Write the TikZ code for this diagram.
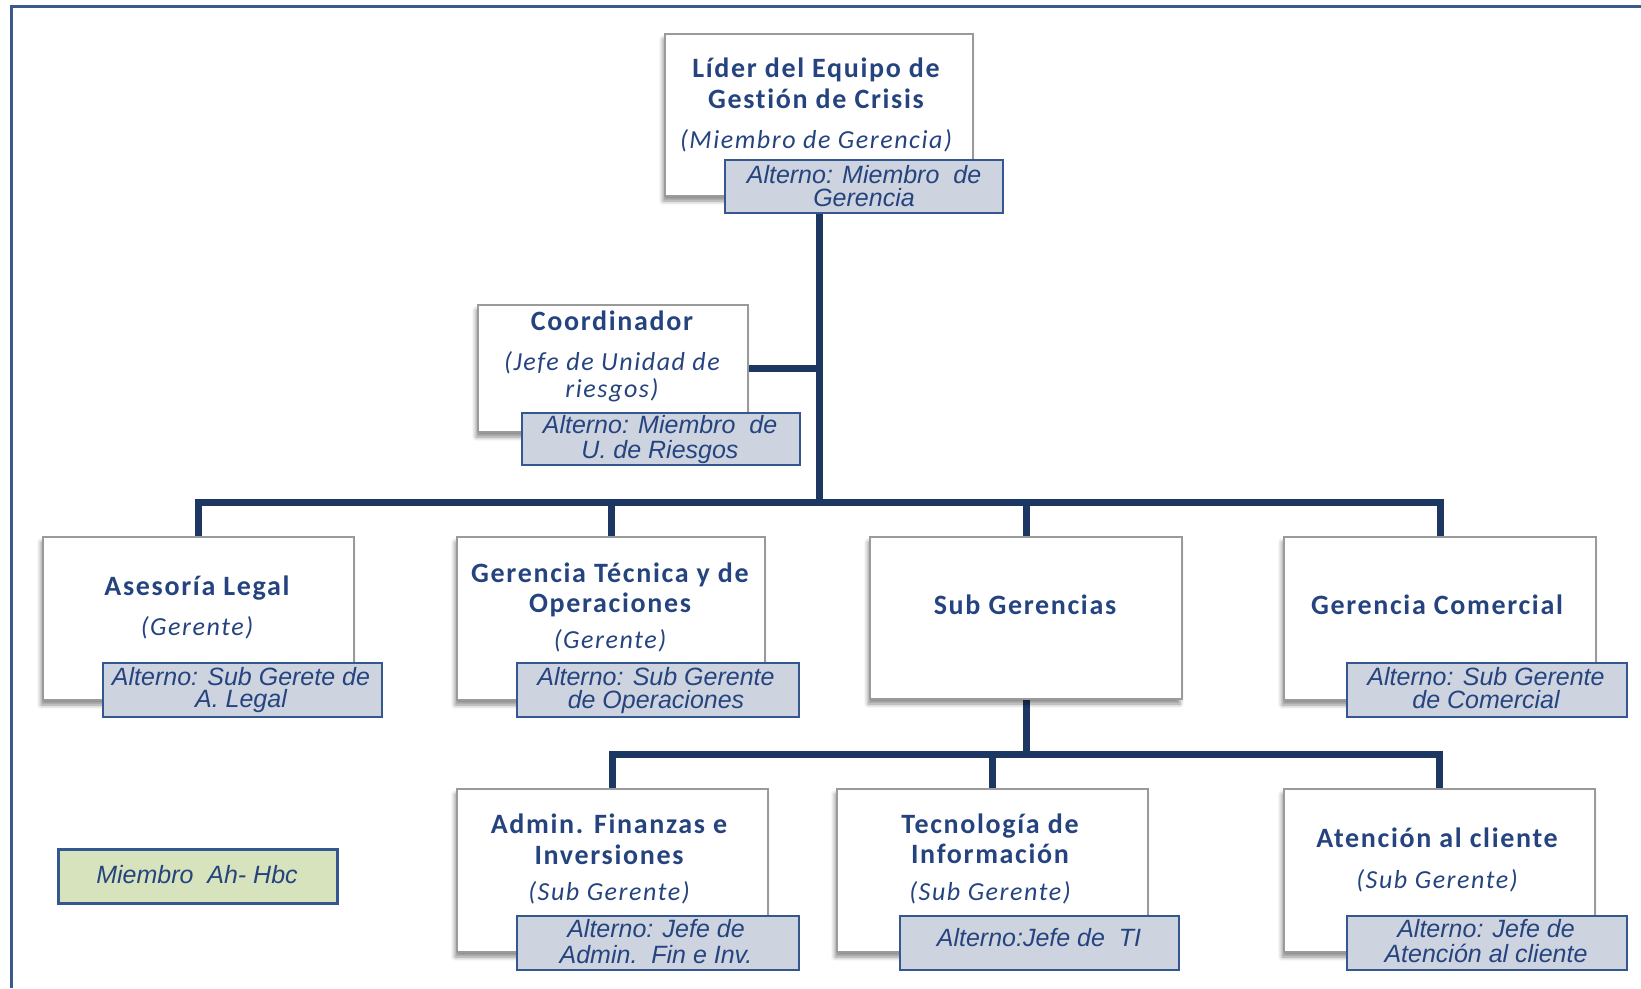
\documentclass[tikz,border=0pt]{standalone}
\usepackage{fontspec}
\setmainfont{Carlito}
\newfontfamily\titlefamily[LetterSpace=6, Ligatures=NoCommon]{Carlito}
\newfontfamily\altfamily{Liberation Sans}
\usetikzlibrary{shadows.blur}
\pgfdeclarelayer{background}
\pgfsetlayers{background,main}

\definecolor{txtblue}{HTML}{25447F}
\definecolor{linkblue}{HTML}{1C3862}
\definecolor{altfill}{HTML}{CDD3DF}
\definecolor{altblue}{HTML}{34578F}
\definecolor{boxgray}{HTML}{9A9A9A}
\definecolor{framecol}{HTML}{3A5A8C}
\definecolor{legendgreen}{HTML}{D7E3BC}

\tikzset{
  mainbox/.style={draw=boxgray, line width=1.8pt, fill=white, inner sep=0pt,
    outer sep=0pt, anchor=north west,
    blur shadow={shadow xshift=-2pt, shadow yshift=-5pt,
      shadow blur radius=4pt, shadow opacity=45}},
  altbox/.style={draw=altblue, line width=2pt, fill=altfill, inner sep=0pt,
    outer sep=0pt, anchor=north west},
  legendbox/.style={draw=altblue, line width=3pt, fill=legendgreen,
    inner sep=0pt, outer sep=0pt, anchor=north west},
  title/.style={font=\titlefamily\bfseries\fontsize{28}{31}\selectfont,
    text=txtblue, anchor=base, inner sep=0pt},
  role/.style={font=\titlefamily\itshape\fontsize{26}{28}\selectfont,
    text=txtblue, anchor=base, inner sep=0pt},
  alttext/.style={font=\altfamily\itshape\fontsize{25}{23}\selectfont,
    text=txtblue, anchor=base, inner sep=0pt},
  link/.style={draw=linkblue, line width=7pt},
  frame/.style={draw=framecol, line width=3pt}
}

\begin{document}
\begin{tikzpicture}[x=1pt, y=-1pt]
\useasboundingbox (0,0) rectangle (1641,988);

% outer frame
\draw[frame] (11,988) -- (11,6) -- (1641,6);

% ---- boxes ----
\node[mainbox, minimum width=308pt, minimum height=162pt] (lider) at (665,34) {};
\node[altbox, minimum width=278pt, minimum height=53pt] (liderAlt) at (725,160) {};

\node[mainbox, minimum width=270pt, minimum height=127pt] (coord) at (478,305) {};
\node[altbox, minimum width=278pt, minimum height=52pt] (coordAlt) at (522,413) {};

\node[mainbox, minimum width=311pt, minimum height=163pt] (legal) at (43,537) {};
\node[altbox, minimum width=279pt, minimum height=54pt] (legalAlt) at (103,663) {};

\node[mainbox, minimum width=308pt, minimum height=163pt] (tecnica) at (457,537) {};
\node[altbox, minimum width=282pt, minimum height=54pt] (tecnicaAlt) at (517,663) {};

\node[mainbox, minimum width=312pt, minimum height=162pt] (subger) at (870,537) {};

\node[mainbox, minimum width=312pt, minimum height=163pt] (comercial) at (1284,537) {};
\node[altbox, minimum width=280pt, minimum height=54pt] (comercialAlt) at (1347,663) {};

\node[mainbox, minimum width=311pt, minimum height=163pt] (finanzas) at (457,789) {};
\node[altbox, minimum width=282pt, minimum height=54pt] (finanzasAlt) at (517,916) {};

\node[mainbox, minimum width=311pt, minimum height=163pt] (ti) at (837,789) {};
\node[altbox, minimum width=279pt, minimum height=54pt] (tiAlt) at (900,916) {};

\node[mainbox, minimum width=311pt, minimum height=163pt] (cliente) at (1284,789) {};
\node[altbox, minimum width=280pt, minimum height=54pt] (clienteAlt) at (1347,916) {};

\node[legendbox, minimum width=279pt, minimum height=54pt] (legend) at (58,849) {};

% ---- connectors ----
\coordinate (bus1) at (0,502);
\coordinate (bus2) at (0,754);
\begin{pgfonlayer}{background}
  \draw[link] (lider.south) -- (lider.south |- bus1);
  \draw[link] (coord.east) -- (coord.east -| lider.south);
  \draw[link] (legal.north) -- (legal.north |- bus1)
    -- (comercial.north |- bus1) -- (comercial.north);
  \draw[link] (tecnica.north) -- (tecnica.north |- bus1);
  \draw[link] (subger.north) -- (subger.north |- bus1);
  \draw[link] (subger.south) -- (subger.south |- bus2);
  \draw[link] (finanzas.north) -- (finanzas.north |- bus2)
    -- (cliente.north |- bus2) -- (cliente.north);
  \draw[link] (ti.north) -- (ti.north |- bus2);
\end{pgfonlayer}

% ---- texts ----
\node[title] (liderT1) at (816,77) {Líder del Equipo de};
\node[title] (liderT2) at (816,108) {Gestión de Crisis};
\node[role]  (liderR) at (816,148) {(Miembro de Gerencia)};
\node[alttext] (liderA1) at (864,183) {Alterno: Miembro\ \ de};
\node[alttext] (liderA2) at (864,206) {Gerencia};

\node[title] (coordT) at (612,330) {Coordinador};
\node[role]  (coordR1) at (612,370) {(Jefe de Unidad de};
\node[role]  (coordR2) at (612,397) {riesgos)};
\node[alttext] (coordA1) at (660,433) {Alterno: Miembro\ \ de};
\node[alttext] (coordA2) at (660,458) {U. de Riesgos};

\node[title] (legalT) at (197,595) {Asesoría Legal};
\node[role]  (legalR) at (197,635) {(Gerente)};
\node[alttext] (legalA1) at (241,685) {Alterno: Sub Gerete de};
\node[alttext] (legalA2) at (241,707) {A. Legal};

\node[title] (tecnicaT1) at (610,582) {Gerencia Técnica y de};
\node[title] (tecnicaT2) at (610,612) {Operaciones};
\node[role]  (tecnicaR) at (610,648) {(Gerente)};
\node[alttext] (tecnicaA1) at (656,685) {Alterno: Sub Gerente};
\node[alttext] (tecnicaA2) at (656,708) {de Operaciones};

\node[title] (subgerT) at (1025,614) {Sub Gerencias};

\node[title] (comercialT) at (1437,614) {Gerencia Comercial};
\node[alttext] (comercialA1) at (1486,685) {Alterno: Sub Gerente};
\node[alttext] (comercialA2) at (1486,708) {de Comercial};

\node[title] (finanzasT1) at (609,833) {Admin. Finanzas e};
\node[title] (finanzasT2) at (609,864) {Inversiones};
\node[role]  (finanzasR) at (609,900) {(Sub Gerente)};
\node[alttext] (finanzasA1) at (656,937) {Alterno: Jefe de};
\node[alttext] (finanzasA2) at (656,963) {Admin.\ \ Fin e Inv.};

\node[title] (tiT1) at (990,833) {Tecnología de};
\node[title] (tiT2) at (990,863) {Información};
\node[role]  (tiR) at (990,900) {(Sub Gerente)};
\node[alttext] (tiA) at (1039,946) {Alterno:Jefe de\ \ TI};

\node[title] (clienteT) at (1437,847) {Atención al cliente};
\node[role]  (clienteR) at (1437,888) {(Sub Gerente)};
\node[alttext] (clienteA1) at (1486,937) {Alterno: Jefe de};
\node[alttext] (clienteA2) at (1486,962) {Atención al cliente};

\node[alttext] (legendT) at (197,883) {Miembro\ \ Ah- Hbc};
\end{tikzpicture}
\end{document}
